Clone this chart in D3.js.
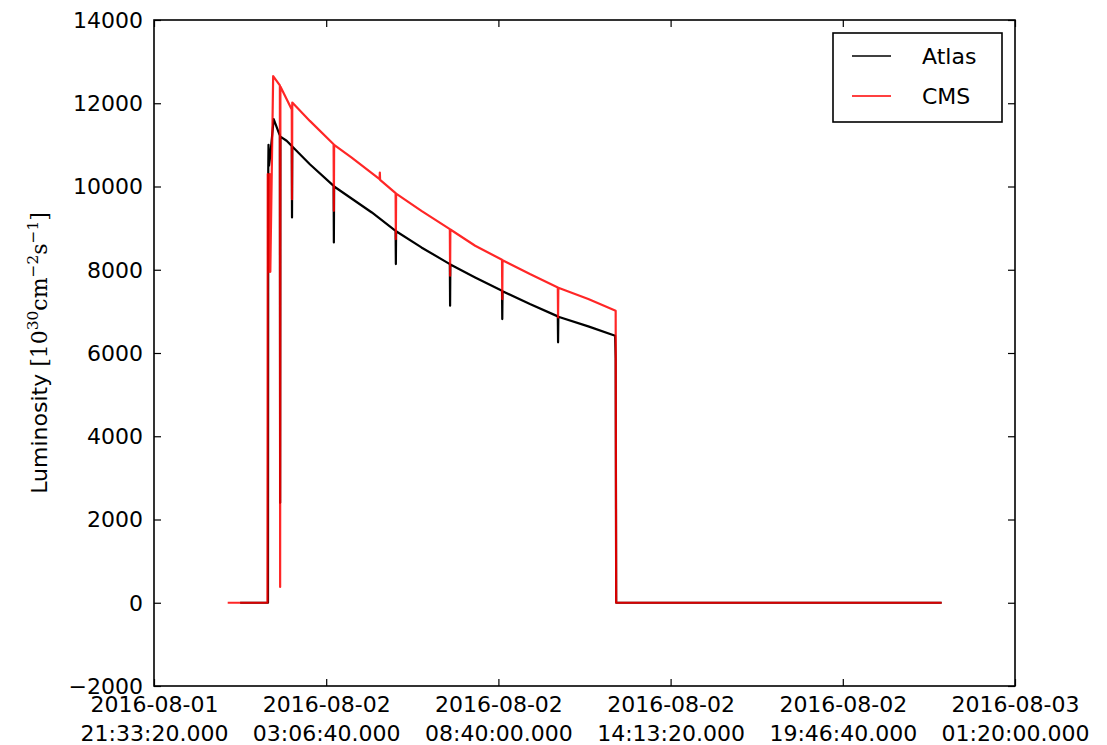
<!DOCTYPE html>
<html>
<head>
<meta charset="utf-8">
<script src="https://cdn.jsdelivr.net/npm/d3@7"></script>
<style>
  body { margin: 0; background: #fff; }
  text { font-family: "DejaVu Sans", sans-serif; fill: #000; }
</style>
</head>
<body>
<svg id="chart" width="1107" height="745"></svg>
<script>
// ATLAS luminosity (10^30 cm^-2 s^-1)
const atlasTimes = [
  '2016-08-02 00:20:00', '2016-08-02 01:14:00', '2016-08-02 01:14:30', '2016-08-02 01:15:00',
  '2016-08-02 01:16:00', '2016-08-02 01:18:00', '2016-08-02 01:25:00', '2016-08-02 01:37:00',
  '2016-08-02 01:37:30', '2016-08-02 01:38:00', '2016-08-02 01:50:00', '2016-08-02 02:00:00',
  '2016-08-02 02:00:30', '2016-08-02 02:01:00', '2016-08-02 02:35:00', '2016-08-02 03:21:00',
  '2016-08-02 03:21:30', '2016-08-02 03:22:00', '2016-08-02 04:35:00', '2016-08-02 05:21:00',
  '2016-08-02 05:21:30', '2016-08-02 05:22:00', '2016-08-02 06:11:00', '2016-08-02 07:06:00',
  '2016-08-02 07:06:30', '2016-08-02 07:07:00', '2016-08-02 07:55:00', '2016-08-02 08:47:00',
  '2016-08-02 08:47:30', '2016-08-02 08:48:00', '2016-08-02 09:41:00', '2016-08-02 10:35:00',
  '2016-08-02 10:35:30', '2016-08-02 10:36:00', '2016-08-02 11:34:00', '2016-08-02 12:26:00',
  '2016-08-02 12:27:00', '2016-08-02 12:28:00', '2016-08-02 22:58:00',
];
const atlasValues = [
  0, 0, 10400, 11000,
  10500, 10700, 11620, 11220,
  2400, 11200, 11100, 10976,
  9256, 10960, 10536, 10016,
  8656, 10000, 9376, 8936,
  8136, 8926, 8536, 8136,
  7136, 8126, 7816, 7496,
  6816, 7486, 7176, 6880,
  6256, 6870, 6640, 6416,
  5860, 0, 0,
];

// CMS luminosity
const cmsTimes = [
  '2016-08-01 23:56:00', '2016-08-02 01:13:00', '2016-08-02 01:13:30', '2016-08-02 01:14:30',
  '2016-08-02 01:15:30', '2016-08-02 01:16:30', '2016-08-02 01:17:30', '2016-08-02 01:18:30',
  '2016-08-02 01:24:00', '2016-08-02 01:37:00', '2016-08-02 01:37:30', '2016-08-02 01:38:00',
  '2016-08-02 02:00:00', '2016-08-02 02:00:30', '2016-08-02 02:01:00', '2016-08-02 02:35:00',
  '2016-08-02 03:21:00', '2016-08-02 03:21:30', '2016-08-02 03:22:00', '2016-08-02 03:56:00',
  '2016-08-02 04:50:00', '2016-08-02 04:50:30', '2016-08-02 04:51:00', '2016-08-02 05:21:00',
  '2016-08-02 05:21:30', '2016-08-02 05:22:00', '2016-08-02 06:11:00', '2016-08-02 07:06:00',
  '2016-08-02 07:06:30', '2016-08-02 07:07:00', '2016-08-02 07:55:00', '2016-08-02 08:47:00',
  '2016-08-02 08:47:30', '2016-08-02 08:48:00', '2016-08-02 09:41:00', '2016-08-02 10:35:00',
  '2016-08-02 10:35:30', '2016-08-02 10:36:00', '2016-08-02 11:34:00', '2016-08-02 12:27:00',
  '2016-08-02 12:28:00', '2016-08-02 22:58:00',
];
const cmsValues = [
  0, 0, 10300, 7950,
  10200, 7950, 10300, 7950,
  12650, 12430, 380, 12400,
  11850, 9696, 12016, 11576,
  11016, 9416, 11000, 10696,
  10176, 10336, 10160, 9840,
  8736, 9830, 9416, 8976,
  7856, 8966, 8576, 8240,
  7296, 8230, 7896, 7576,
  6856, 7566, 7296, 7016,
  0, 0,
];

const xTicks = [
  '2016-08-01 21:33:20', '2016-08-02 03:06:40', '2016-08-02 08:40:00',
  '2016-08-02 14:13:20', '2016-08-02 19:46:40', '2016-08-03 01:20:00',
];
const yTicks = [-2000, 0, 2000, 4000, 6000, 8000, 10000, 12000, 14000];

const parse = d3.utcParse('%Y-%m-%d %H:%M:%S');
const atlas = atlasTimes.map((t, i) => ({ date: parse(t), value: atlasValues[i] }));
const cms = cmsTimes.map((t, i) => ({ date: parse(t), value: cmsValues[i] }));
const tickDates = xTicks.map(parse);

const width = 1107;
const height = 745;
const margin = {
  top: 20, right: 92, bottom: 58, left: 154,
};
const fs = 22;

const svg = d3.select('#chart');

const x = d3.scaleUtc()
  .domain([tickDates[0], tickDates[tickDates.length - 1]])
  .range([margin.left, width - margin.right]);

const y = d3.scaleLinear()
  .domain([-2000, 14000])
  .range([height - margin.bottom - 1, margin.top]);

// lines
const line = d3.line()
  .x((d) => x(d.date))
  .y((d) => y(d.value));

svg.append('path')
  .datum(atlas)
  .attr('fill', 'none')
  .attr('stroke', '#000')
  .attr('stroke-width', 2.2)
  .attr('stroke-linejoin', 'round')
  .attr('d', line);

svg.append('path')
  .datum(cms)
  .attr('fill', 'none')
  .attr('stroke', '#ff0000')
  .attr('stroke-opacity', 0.85)
  .attr('stroke-width', 2.2)
  .attr('stroke-linejoin', 'round')
  .attr('d', line);

// axes, ticks pointing inward on all four sides
const fmtDay = d3.utcFormat('%Y-%m-%d');
const fmtTime = d3.utcFormat('%H:%M:%S.000');
const plotBottom = y(-2000);
const plotTop = y(14000);

const xAxis = svg.append('g')
  .attr('transform', `translate(0,${plotBottom})`)
  .call(d3.axisBottom(x).tickValues(tickDates).tickSizeInner(-7).tickSizeOuter(0).tickFormat(''));
xAxis.select('.domain').remove();
xAxis.selectAll('.tick').each(function (d) {
  const t = d3.select(this).append('text')
    .attr('text-anchor', 'middle')
    .attr('font-size', fs)
    .attr('fill', '#000');
  t.append('tspan').attr('x', 0).attr('y', 26).text(fmtDay(d));
  t.append('tspan').attr('x', 0).attr('y', 54.5).text(fmtTime(d));
});

const xTop = svg.append('g')
  .attr('transform', `translate(0,${plotTop})`)
  .call(d3.axisTop(x).tickValues(tickDates).tickSizeInner(-7).tickSizeOuter(0).tickFormat(''));
xTop.select('.domain').remove();

const yAxis = svg.append('g')
  .attr('transform', `translate(${margin.left},0)`)
  .call(d3.axisLeft(y).tickValues(yTicks).tickSizeInner(-7).tickSizeOuter(0).tickPadding(11)
    .tickFormat((d) => (d < 0 ? `\u2212${Math.abs(d)}` : `${d}`)));
yAxis.select('.domain').remove();
yAxis.selectAll('text')
  .attr('font-size', fs)
  .attr('font-family', '"DejaVu Sans", sans-serif')
  .attr('dy', '0.33em');

const yRight = svg.append('g')
  .attr('transform', `translate(${width - margin.right},0)`)
  .call(d3.axisRight(y).tickValues(yTicks).tickSizeInner(-7).tickSizeOuter(0).tickFormat(''));
yRight.select('.domain').remove();

svg.selectAll('.tick line').attr('stroke', '#000').attr('stroke-width', 1.2);

// frame
svg.append('rect')
  .attr('x', margin.left)
  .attr('y', plotTop)
  .attr('width', width - margin.right - margin.left)
  .attr('height', plotBottom - plotTop)
  .attr('fill', 'none')
  .attr('stroke', '#000')
  .attr('stroke-width', 1.6);

// y label
const cy = (plotTop + plotBottom) / 2;
const yl = svg.append('text')
  .attr('transform', `translate(47,${cy}) rotate(-90)`)
  .attr('text-anchor', 'middle')
  .attr('font-size', fs);
yl.append('tspan').text('Luminosity ');
const mathFont = '"DejaVu Serif", "Liberation Serif", serif';
const part = (txt, sup) => {
  const s = yl.append('tspan').attr('font-family', mathFont);
  if (sup) s.attr('font-size', fs * 0.7).attr('dy', -9);
  s.text(txt);
  return s;
};
part('[10');
part('30', true);
part('cm').attr('dy', 9);
part('\u22122', true);
part('s').attr('dy', 9);
part('\u22121', true);
part(']').attr('dy', 9);

// legend
const legend = svg.append('g');
legend.append('rect')
  .attr('x', 833).attr('y', 33)
  .attr('width', 169).attr('height', 89)
  .attr('fill', '#fff')
  .attr('stroke', '#000')
  .attr('stroke-width', 1.6);
const legendItems = [
  { name: 'Atlas', color: '#000' },
  { name: 'CMS', color: '#ff0000' },
];
legendItems.forEach((item, i) => {
  const ly = 56 + i * 40;
  legend.append('line')
    .attr('x1', 852).attr('x2', 891)
    .attr('y1', ly).attr('y2', ly)
    .attr('stroke', item.color)
    .attr('stroke-width', 1.4);
  legend.append('text')
    .attr('x', 922).attr('y', ly + 8)
    .attr('font-size', fs)
    .text(item.name);
});
</script>
</body>
</html>
